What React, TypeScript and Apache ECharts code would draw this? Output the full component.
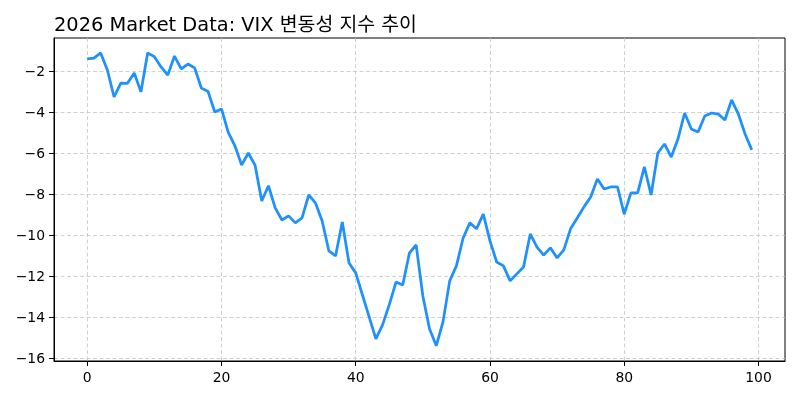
import React, { useEffect, useRef } from "react";
import * as echarts from "echarts";

const TITLE = "2026 Market Data: VIX 변동성 지수 추이";

const vixValues = [
  -1.41, -1.37, -1.12, -1.95, -3.27, -2.59, -2.6, -2.1, -3.02, -1.12,
  -1.3, -1.8, -2.2, -1.27, -1.9, -1.66, -1.85, -2.83, -3.0, -4.0,
  -3.85, -4.98, -5.65, -6.59, -6.0, -6.59, -8.34, -7.6, -8.68, -9.27,
  -9.07, -9.41, -9.17, -8.05, -8.44, -9.32, -10.78, -11.02, -9.37, -11.37,
  -11.85, -12.93, -14.0, -15.07, -14.39, -13.4, -12.3, -12.44, -10.88, -10.49,
  -12.98, -14.59, -15.41, -14.24, -12.24, -11.51, -10.15, -9.41, -9.7, -8.98,
  -10.29, -11.32, -11.51, -12.24, -11.9, -11.56, -9.95, -10.59, -10.98, -10.63,
  -11.12, -10.73, -9.7, -9.17, -8.63, -8.15, -7.27, -7.76, -7.66, -7.66,
  -8.98, -7.95, -7.95, -6.68, -8.05, -6.0, -5.56, -6.2, -5.32, -4.05,
  -4.83, -4.98, -4.2, -4.05, -4.1, -4.39, -3.41, -4.1, -5.07, -5.85,
];

const xTicks = [0, 20, 40, 60, 80, 100];
const yTicks = [-16, -14, -12, -10, -8, -6, -4, -2];

const FONT = "DejaVu Sans, Noto Sans CJK KR, sans-serif";

export default function App() {
  const ref = useRef<HTMLDivElement>(null);
  useEffect(() => {
    const chart = echarts.init(ref.current!, null, { renderer: "svg" });
    const fmt = (v: number) => String(v).replace("-", "\u2212");
    const splitLine = {
      show: true,
      lineStyle: { type: [4, 2.5], color: "#c4c4c4", width: 0.8 },
    };
    const axisLineStyle = { color: "#000", width: 1 };
    chart.setOption({
      animation: false,
      title: {
        text: TITLE,
        left: 49,
        top: 10,
        textStyle: {
          fontFamily: FONT,
          fontSize: 19.4,
          fontWeight: "normal",
          color: "#000",
        },
      },
      grid: {
        left: 54,
        right: 15,
        top: 38,
        bottom: 39,
        show: true,
        borderColor: "#000",
        borderWidth: 1,
        backgroundColor: "transparent",
        containLabel: false,
        outerBoundsMode: "none",
      },
      xAxis: {
        type: "value",
        min: -4.95,
        max: 103.95,
        axisLine: { show: true, onZero: false, lineStyle: axisLineStyle },
        axisTick: {
          show: true,
          customValues: xTicks,
          length: 5,
          inside: false,
          lineStyle: axisLineStyle,
        },
        axisLabel: {
          customValues: xTicks,
          formatter: fmt,
          margin: 9,
          fontFamily: FONT,
          fontSize: 13.9,
          color: "#000",
        },
        splitLine,
      },
      yAxis: {
        type: "value",
        min: -16.15,
        max: -0.39,
        axisLine: { show: true, onZero: false, lineStyle: axisLineStyle },
        axisTick: {
          show: true,
          customValues: yTicks,
          length: 5,
          inside: false,
          lineStyle: axisLineStyle,
        },
        axisLabel: {
          customValues: yTicks,
          formatter: fmt,
          margin: 9,
          fontFamily: FONT,
          fontSize: 13.9,
          color: "#000",
        },
        splitLine,
      },
      series: [
        {
          type: "line",
          data: vixValues.map((v, i) => [i, v]),
          showSymbol: false,
          symbol: "none",
          lineStyle: { color: "#1e90ff", width: 2.75 },
          itemStyle: { color: "#1e90ff" },
        },
      ],
    });
    return () => chart.dispose();
  }, []);
  return (
    <div
      ref={ref}
      style={{ position: "fixed", left: 0, top: 0, width: 800, height: 400 }}
    />
  );
}
